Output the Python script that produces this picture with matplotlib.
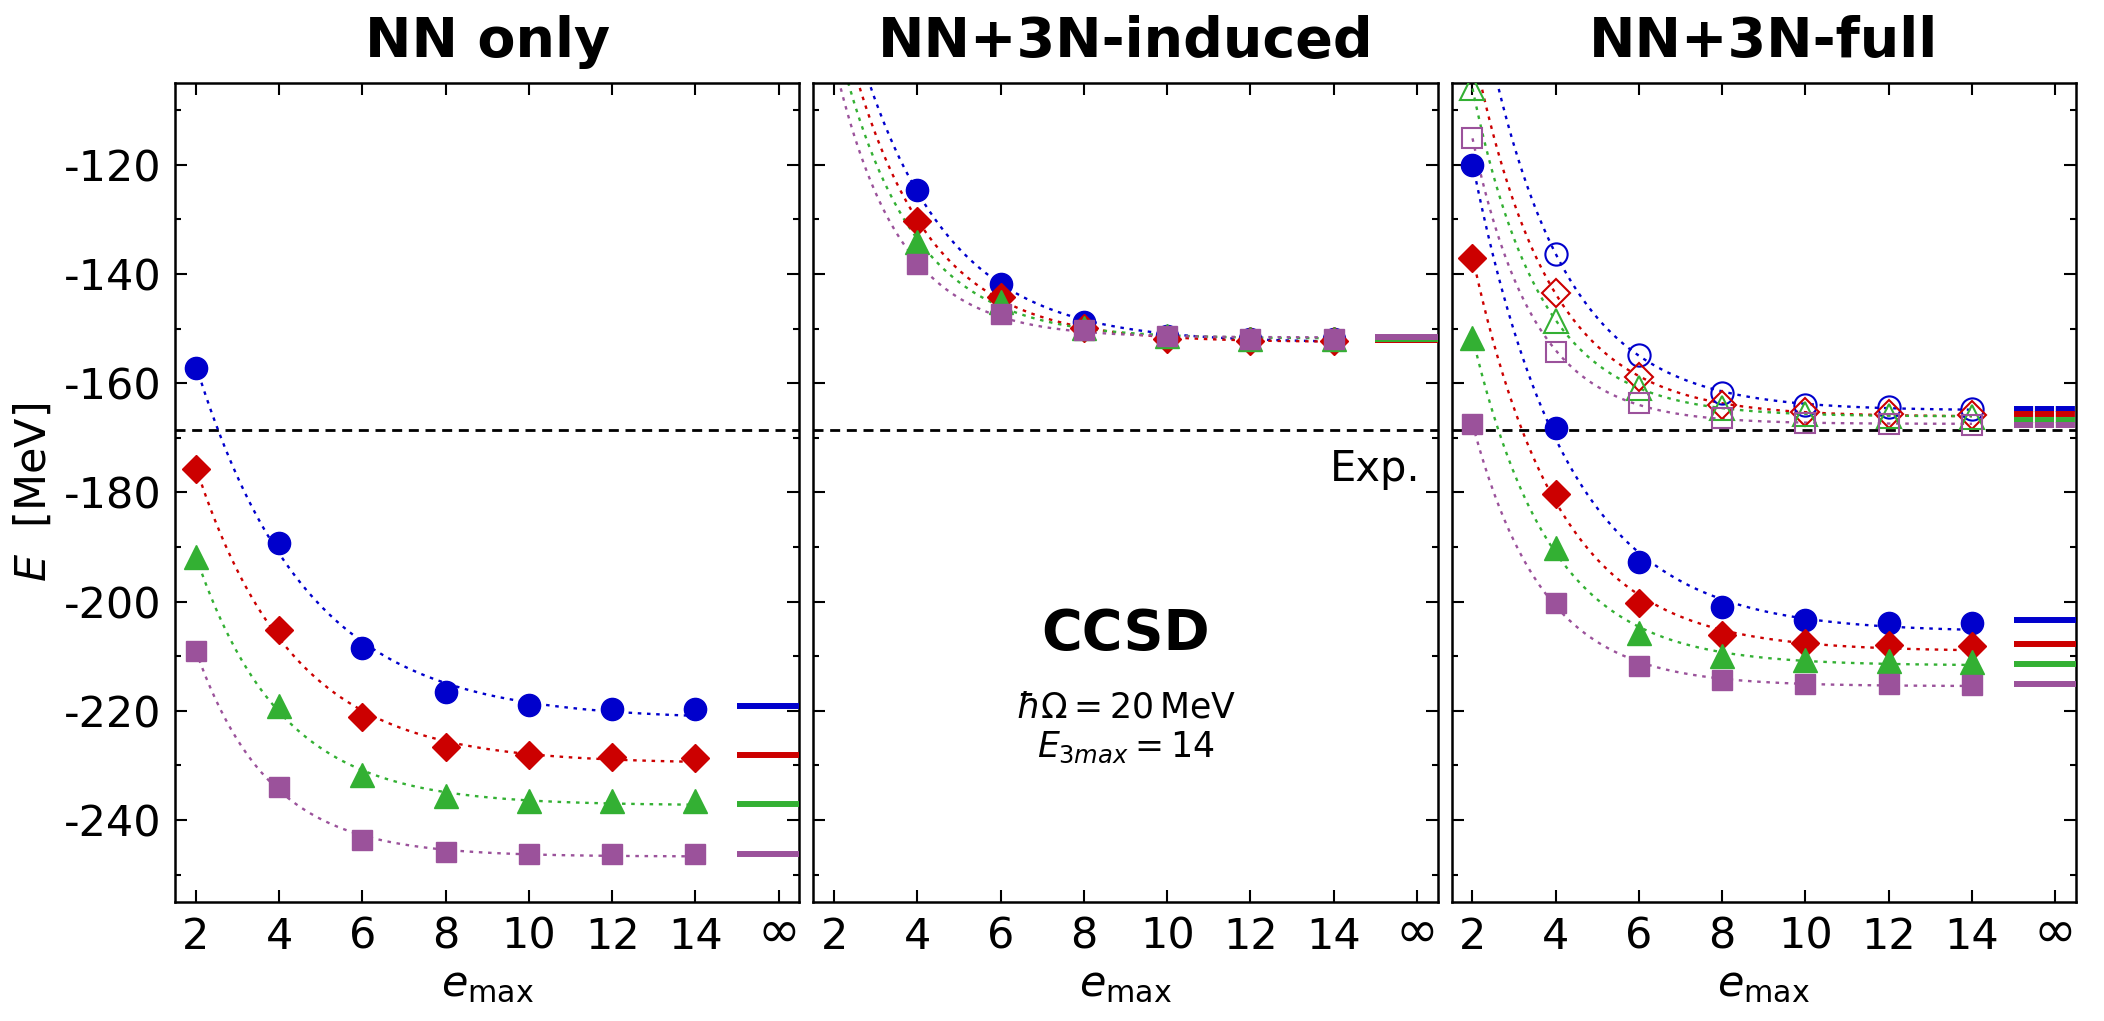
import numpy as np
import matplotlib
matplotlib.use("Agg")
import matplotlib.pyplot as plt
from matplotlib.ticker import MultipleLocator
import matplotlib.transforms as mtransforms

plt.rcParams['font.family'] = ['DejaVu Sans']
plt.rcParams['axes.unicode_minus'] = False
plt.rcParams['mathtext.fontset'] = 'dejavusans'

#--- data

emax = [2, 4, 6, 8, 10, 12, 14]
xtick_pos = [2, 4, 6, 8, 10, 12, 14, 16]
xtick_lab = ['2', '4', '6', '8', '10', '12', '14', '\u221e']
titles = ['NN only', 'NN+3N-induced', 'NN+3N-full']
e_exp = -168.5

# NN only
nn_blue = [-157.2, -189.2, -208.4, -216.5, -219.0, -219.6, -219.7]
nn_red = [-175.7, -205.2, -221.1, -226.6, -228.1, -228.4, -228.6]
nn_green = [-191.9, -219.2, -231.8, -235.6, -236.5, -236.6, -236.6]
nn_purple = [-209.1, -234.0, -243.6, -245.8, -246.2, -246.3, -246.3]
nn_inf = [-219.1, -228.1, -237.0, -246.3]

# NN+3N-induced (e=2 values lie above the frame)
ind_blue = [-82.0, -124.6, -141.9, -148.7, -151.3, -151.8, -151.9]
ind_red = [-88.0, -130.3, -144.2, -149.8, -151.9, -152.2, -152.2]
ind_green = [-95.0, -134.1, -145.2, -149.8, -151.3, -151.8, -151.9]
ind_purple = [-101.0, -138.2, -147.3, -150.2, -151.3, -151.8, -151.9]
ind_inf = [-152.0, -152.1, -151.9, -151.6]

# NN+3N-full, filled
full_blue = [-120.1, -168.2, -192.8, -201.0, -203.4, -203.9, -203.9]
full_red = [-137.1, -180.2, -200.3, -206.1, -207.6, -208.0, -208.2]
full_green = [-151.7, -190.1, -205.8, -210.0, -210.7, -210.9, -211.1]
full_purple = [-167.5, -200.3, -211.8, -214.4, -215.0, -215.0, -215.2]
full_inf = [-203.4, -207.8, -211.5, -215.0]

# NN+3N-full, open
open_blue = [-83.0, -136.3, -154.8, -161.7, -164.0, -164.4, -164.7]
open_red = [-98.0, -143.5, -158.8, -163.9, -165.3, -165.7, -165.9]
open_green = [-106.0, -148.5, -160.8, -164.5, -165.6, -166.0, -166.1]
open_purple = [-115.1, -154.2, -163.6, -166.3, -167.2, -167.5, -167.7]
open_inf = [-164.8, -165.7, -166.7, -167.7]

colors = ['#0000CC', '#CC0000', '#33B033', '#9B529B']
markers = ['o', 'D', '^', 's']
msizes = [16, 14, 17, 14.5]

#-----------------------------------------------

def fit_curve(x, y):
    # E(e) = c + a*exp(-b*e), scan b and solve the linear part
    x = np.asarray(x, float)
    y = np.asarray(y, float)
    best = None
    for b in np.linspace(0.05, 2.0, 600):
        A = np.column_stack([np.ones_like(x), np.exp(-b * x)])
        coef = np.linalg.lstsq(A, y, rcond=None)[0]
        r = np.sum((A @ coef - y) ** 2)
        if best is None or r < best[0]:
            best = (r, b, coef)
    _, b, (c, a) = best
    xx = np.linspace(x[0], x[-1], 300)
    return xx, c + a * np.exp(-b * xx)


def draw_set(ax, series, inf_vals, filled=True, inf_style='-'):
    for k, ys in enumerate(series):
        xx, yy = fit_curve(emax, ys)
        ax.plot(xx, yy, color=colors[k], lw=1.7, linestyle=(0, (1.5, 2.4)), zorder=2)
        if filled:
            ax.plot(emax, ys, linestyle='none', marker=markers[k], ms=msizes[k],
                    color=colors[k], mec=colors[k], zorder=3 + k)
        else:
            ax.plot(emax, ys, linestyle='none', marker=markers[k], ms=msizes[k],
                    mfc='none', mec=colors[k], mew=1.5, zorder=3 + k)
        ax.plot([15, 16.7], [inf_vals[k], inf_vals[k]], color=colors[k], lw=4.3,
                linestyle=inf_style, solid_capstyle='butt', zorder=3 + k)


fig, axes = plt.subplots(1, 3, figsize=(21.04, 10.21), dpi=100, sharey=True)
fig.subplots_adjust(left=0.0832, right=0.9867, top=0.9187, bottom=0.1166, wspace=0.0224)

lift = mtransforms.ScaledTranslation(0, 6 / 72, fig.dpi_scale_trans)

for i, ax in enumerate(axes):
    ax.set_xlim(1.5, 16.5)
    ax.set_ylim(-255, -105)
    ax.set_xticks(xtick_pos)
    ax.set_xticklabels(xtick_lab)
    ax.yaxis.set_major_locator(MultipleLocator(20))
    ax.yaxis.set_minor_locator(MultipleLocator(10))
    ax.tick_params(which='both', direction='in', top=True, right=True, width=1.5,
                   labelsize=31, pad=10)
    ax.tick_params(which='major', length=8.5)
    ax.tick_params(which='minor', length=4.5)
    inf_lab = ax.get_xticklabels()[-1]
    inf_lab.set_fontsize(37)
    inf_lab.set_transform(inf_lab.get_transform() + lift)
    for sp in ax.spines.values():
        sp.set_linewidth(1.8)
    ax.axhline(e_exp, color='black', lw=2.0, linestyle=(0, (3.6, 2.4)), zorder=1)
    ax.set_xlabel(r'$e_{\rm max}$', fontsize=31, labelpad=4)
    ax.set_title(titles[i], fontsize=40, fontweight='bold', pad=19)

axes[0].set_ylabel(r'$E$  [MeV]', fontsize=31, labelpad=6)
axes[0].set_yticks([-120, -140, -160, -180, -200, -220, -240])
for ax in axes[1:]:
    ax.tick_params(labelleft=False)

draw_set(axes[0], [nn_blue, nn_red, nn_green, nn_purple], nn_inf)
draw_set(axes[1], [ind_blue, ind_red, ind_green, ind_purple], ind_inf)
draw_set(axes[2], [open_blue, open_red, open_green, open_purple], open_inf,
         filled=False, inf_style=(0, (3.2, 0.3)))
draw_set(axes[2], [full_blue, full_red, full_green, full_purple], full_inf)

trans = mtransforms.blended_transform_factory(axes[1].transAxes, axes[1].transData)
axes[1].text(0.973, e_exp - 3.4, 'Exp.', transform=trans, ha='right', va='top', fontsize=30)
axes[1].text(9.0, -206.0, 'CCSD', ha='center', va='center', fontsize=40, fontweight='bold')
axes[1].text(9.0, -219.3, r'$\hbar\Omega = 20\,\mathrm{MeV}$', ha='center', va='center', fontsize=25)
axes[1].text(9.0, -226.7, r'$E_{3max} = 14$', ha='center', va='center', fontsize=25)

plt.savefig('out.png', dpi=100)
